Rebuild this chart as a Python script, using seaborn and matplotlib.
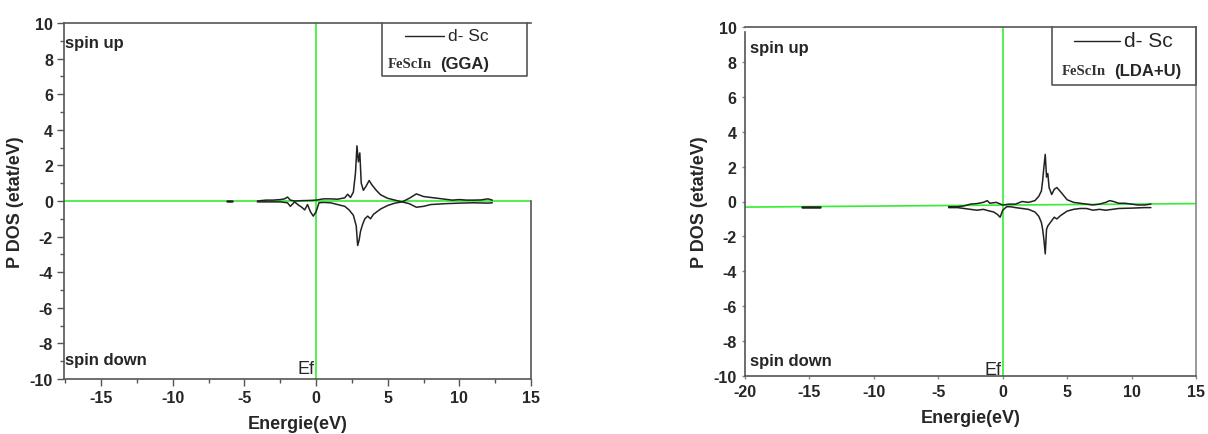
import matplotlib
matplotlib.use("Agg")
import matplotlib.pyplot as plt
import seaborn as sns
import pandas as pd
from matplotlib.ticker import MultipleLocator

# ---------------- data ----------------
gga_up_x = [-4.1,-3.5,-3.0,-2.5,-2.2,-2.0,-1.8,-1.5,-1.0,-0.5,0.0,0.5,1.0,1.5,2.0,2.2,2.4,2.6,2.75,2.85,2.95,3.05,3.15,3.3,3.5,3.7,3.9,4.2,4.5,5.0,5.5,6.0,6.5,7.0,7.5,8.0,8.5,9.0,9.5,10.0,10.5,11.0,11.5,12.0,12.3]
gga_up_y = [0.0,0.05,0.05,0.08,0.12,0.22,0.05,0.0,0.02,0.03,0.05,0.12,0.12,0.1,0.18,0.38,0.2,0.5,1.6,3.1,2.2,2.7,1.0,0.6,0.85,1.15,0.9,0.6,0.35,0.15,0.05,-0.05,0.15,0.4,0.25,0.2,0.15,0.1,0.05,0.08,0.05,0.05,0.06,0.12,0.05]
gga_dn_x = [-4.1,-3.5,-3.0,-2.5,-2.2,-2.0,-1.8,-1.5,-1.2,-1.0,-0.8,-0.6,-0.4,-0.2,0.0,0.2,0.5,1.0,1.5,2.0,2.3,2.6,2.8,2.9,3.0,3.1,3.25,3.4,3.6,3.8,4.0,4.5,5.0,5.5,6.0,6.5,7.0,7.5,8.0,9.0,10.0,11.0,12.0,12.3]
gga_dn_y = [-0.05,-0.05,-0.05,-0.05,-0.08,-0.1,-0.3,-0.05,-0.25,-0.35,-0.5,-0.2,-0.6,-0.85,-0.6,-0.1,-0.08,-0.1,-0.2,-0.3,-0.5,-0.8,-1.4,-2.5,-2.2,-1.7,-1.3,-1.0,-0.85,-1.0,-0.75,-0.45,-0.25,-0.12,-0.05,-0.15,-0.35,-0.3,-0.2,-0.15,-0.12,-0.1,-0.12,-0.1]
gga_dash_x = [-6.2, -5.9]
gga_dash_y = [0.0, 0.0]

lda_up_x = [-4.2,-3.5,-3.0,-2.5,-2.0,-1.5,-1.2,-1.0,-0.5,0.0,0.5,1.0,1.5,2.0,2.5,2.8,3.0,3.1,3.2,3.3,3.4,3.5,3.6,3.8,4.0,4.2,4.5,5.0,5.5,6.0,6.5,7.0,7.5,8.0,8.3,8.6,9.0,9.5,10.0,10.5,11.0,11.5]
lda_up_y = [-0.3,-0.3,-0.25,-0.15,-0.12,-0.05,0.05,-0.1,-0.05,-0.2,-0.15,-0.15,0.0,-0.05,0.05,0.3,0.6,1.2,2.0,2.7,1.4,1.6,0.8,0.4,0.7,0.8,0.55,0.1,-0.05,-0.1,-0.15,-0.2,-0.15,-0.05,0.05,0.0,-0.1,-0.1,-0.15,-0.2,-0.2,-0.15]
lda_dn_x = [-4.2,-3.5,-3.0,-2.5,-2.0,-1.5,-1.0,-0.7,-0.4,-0.2,0.0,0.3,0.6,1.0,1.5,2.0,2.5,2.8,3.0,3.1,3.2,3.3,3.4,3.5,3.6,3.8,4.0,4.2,4.5,5.0,5.5,6.0,6.5,7.0,7.5,8.0,8.5,9.0,10.0,11.0,11.5]
lda_dn_y = [-0.35,-0.35,-0.4,-0.45,-0.5,-0.45,-0.55,-0.6,-0.75,-0.9,-0.5,-0.3,-0.3,-0.35,-0.4,-0.45,-0.6,-0.85,-1.2,-1.6,-2.2,-3.0,-1.6,-1.4,-1.3,-1.1,-0.9,-1.0,-0.8,-0.55,-0.45,-0.4,-0.4,-0.5,-0.45,-0.5,-0.45,-0.4,-0.38,-0.35,-0.35]
lda_dash_x = [-15.6, -14.2]
lda_dash_y = [-0.3, -0.3]

# reference (Fermi) lines
gga_h_x, gga_h_y = [-17.6, 15], [0.0, 0.0]
lda_h_x, lda_h_y = [-20, 15], [-0.32, -0.12]

x_ticks_gga = [-15, -10, -5, 0, 5, 10, 15]
x_ticks_lda = [-20, -15, -10, -5, 0, 5, 10, 15]
y_ticks = [-10, -8, -6, -4, -2, 0, 2, 4, 6, 8, 10]

# ---------------- style ----------------
sns.set_style("white")
plt.rcParams['font.family'] = ['Liberation Sans', 'DejaVu Sans']

fig = plt.figure(figsize=(12.08, 4.35), dpi=100)
W, H = 1208, 435
axL = fig.add_axes([64 / W, 1 - 380 / H, (531 - 64) / W, (380 - 24) / H])
axR = fig.add_axes([745 / W, 1 - 377 / H, (1196 - 745) / W, (377 - 28) / H])

GREEN = "#33ee33"
LINEC = "#222222"


def draw(ax, up_x, up_y, dn_x, dn_y, dash_x, dash_y, hx, hy):
    for xs, ys in [(up_x, up_y), (dn_x, dn_y)]:
        df = pd.DataFrame({"E": xs, "DOS": ys})
        sns.lineplot(data=df, x="E", y="DOS", ax=ax, sort=False,
                     color=LINEC, linewidth=1.1, zorder=3)
    sns.lineplot(x=dash_x, y=dash_y, ax=ax, color=LINEC, linewidth=1.8, zorder=3)
    sns.lineplot(x=hx, y=hy, ax=ax, color=GREEN, linewidth=1.2, zorder=2)
    ax.axvline(0, color=GREEN, linewidth=1.2, zorder=2)


draw(axL, gga_up_x, gga_up_y, gga_dn_x, gga_dn_y, gga_dash_x, gga_dash_y, gga_h_x, gga_h_y)
draw(axR, lda_up_x, lda_up_y, lda_dn_x, lda_dn_y, lda_dash_x, lda_dash_y, lda_h_x, lda_h_y)

axL.set_xlim(-17.6, 15)
axR.set_xlim(-20, 15)
for ax, xt in [(axL, x_ticks_gga), (axR, x_ticks_lda)]:
    ax.set_ylim(-10, 10)
    ax.set_xticks(xt)
    ax.set_yticks(y_ticks)
    ax.set_xticklabels([str(v) for v in xt], fontweight="bold", fontsize=11.5)
    ax.set_yticklabels([str(v) for v in y_ticks], fontweight="bold", fontsize=11.5)
    ax.set_xlabel("Energie(eV)", fontweight="bold", fontsize=13, labelpad=7)
    ax.set_ylabel("P DOS (etat/eV)", fontweight="bold", fontsize=13, labelpad=4)
    for s in ax.spines.values():
        s.set_color("#555555")
        s.set_linewidth(1.2)

axL.xaxis.set_minor_locator(MultipleLocator(2.5))
axL.yaxis.set_minor_locator(MultipleLocator(1))
axL.tick_params(which="major", direction="out", length=5, width=1, color="#555555",
                bottom=True, left=True, pad=3)
axL.tick_params(which="minor", direction="out", length=3, width=1, color="#555555",
                bottom=True, left=True)
axL.spines["right"].set_bounds(-10, 0)
axR.tick_params(which="major", direction="out", length=2, width=1, color="#888888",
                bottom=True, left=True, pad=4)
axR.spines["right"].set_color("#888888")
axR.spines["left"].set_bounds(-10, 9.7)

# texts
for ax, x0, yu, yd, yef in [(axL, -17.5, 8.93, -8.9, -9.4), (axR, -19.6, 8.85, -9.1, -9.65)]:
    ax.text(x0, yu, "spin up", fontweight="bold", fontsize=12, va="center", ha="left")
    ax.text(x0, yd, "spin down", fontweight="bold", fontsize=12, va="center", ha="left")
    ax.text(-0.1, yef, "Ef", fontsize=13, va="center", ha="right")

# legend boxes
def legend_box(ax, x0, x1, ybot, lx0, lx1, ly, tx, tsize, fx, fy, tag):
    ax.plot([x0, x0, x1, x1], [10, ybot, ybot, 10], color="#555555", linewidth=1.2,
            zorder=4, clip_on=False)
    ax.plot([lx0, lx1], [ly, ly], color=LINEC, linewidth=1.0, zorder=4)
    ax.text(tx, ly, "d- Sc", fontsize=tsize, va="center", ha="left")
    t = ax.text(fx, fy, "FeScIn", fontsize=10.5, fontweight="bold",
                family=["Liberation Serif"], va="center", ha="left", color="#333333")
    ax.annotate(tag, xy=(1, 0.5), xycoords=t, xytext=(6, 0), textcoords="offset points",
                fontsize=12, fontweight="bold", va="center", ha="left")

legend_box(axL, 4.6, 14.7, 7.0, 6.2, 8.9, 9.27, 9.2, 12.5, 5.0, 7.7, "(GGA)")
legend_box(axR, 3.8, 15.0, 6.67, 5.5, 9.1, 9.2, 9.4, 15, 4.6, 7.5, "(LDA+U)")

fig.savefig("out.png", dpi=100)
